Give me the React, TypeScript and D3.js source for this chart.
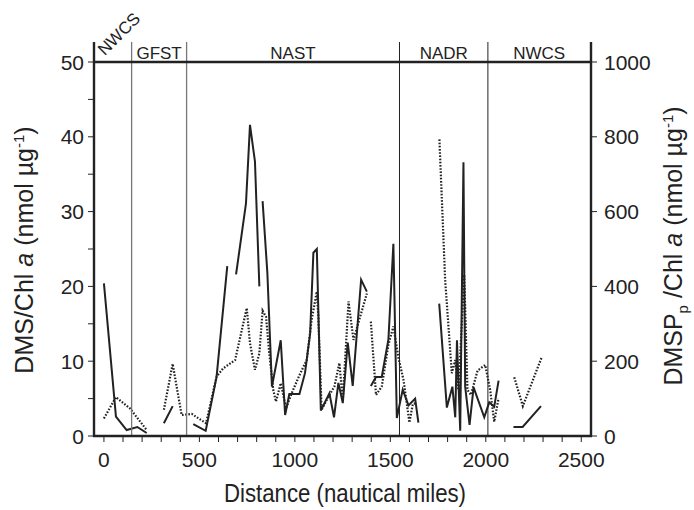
import React from 'react';
import * as d3 from 'd3';

// DMS/Chl a (solid line, left axis); null = gap in the transect
const dmsDist = [0, 63, 119, 175, 224, 250, 314, 360, 400, 468, 533, 590, 646, 670, 692, 744, 765, 791, 814, 822,
  831, 856, 880, 926, 949, 971, 1024, 1053, 1080, 1097, 1115, 1136, 1181, 1205, 1228, 1251, 1277, 1303, 1347, 1377, 1388,
  1398, 1425, 1455, 1490, 1516, 1534, 1565, 1595, 1630, 1647, 1700,
  1756, 1796, 1825, 1840, 1849, 1866, 1883, 1892, 1915, 1936, 1992, 2018, 2044, 2067, 2100,
  2145, 2193, 2289];
const dmsVal = [20.4, 2.6, 0.8, 1.2, 0.4, null, 1.7, 4.0, null, 1.6, 0.7, 7.9, 22.7, null, 21.6, 31.1, 41.6, 36.7, 20.0, null,
  31.4, 21.8, 6.6, 12.8, 2.8, 5.6, 5.6, 8.4, 13.7, 24.5, 25.0, 3.4, 5.7, 2.5, 7.1, 4.4, 12.5, 6.7, 20.9, 19.3, null,
  6.7, 7.9, 7.9, 12.9, 25.7, 2.4, 6.2, 4.1, 5.0, 1.8, null,
  17.7, 3.8, 6.6, 2.5, 12.8, 0.7, 36.6, 6.6, 1.5, 6.5, 2.5, 4.5, 3.9, 7.4, null,
  1.2, 1.2, 4.0];

// DMSPp/Chl a (dotted line, right axis)
const dmspDist = [0, 63, 136, 224, 270, 314, 360, 407, 460, 535, 590, 625, 687, 748, 765, 791, 814, 831, 849, 866, 887,
  901, 926, 954, 983, 1027, 1062, 1088, 1115, 1123, 1140, 1181, 1207, 1233, 1251, 1281, 1307, 1377, 1388,
  1398, 1425, 1455, 1490, 1516, 1543, 1569, 1600, 1618, 1639, 1700,
  1757, 1787, 1822, 1840, 1857, 1887, 1904, 1922, 1957, 1997, 2023, 2044, 2067, 2100,
  2149, 2194, 2294];
const dmspVal = [47, 104, 74, 16, null, 70, 193, 56, 59, 34, 159, 181, 203, 342, 248, 177, 221, 335, 319, 221, 123,
  92, 141, 74, 114, 166, 203, 311, 386, 319, 70, 110, 132, 195, 96, 360, 257, 381, null,
  306, 110, 132, 244, 293, 208, 150, 36, 86, 88, null,
  793, 418, 168, 203, 123, 431, 123, 110, 175, 190, 123, 38, 101, null,
  157, 80, 212];

const provinceBounds = [145, 433, 1548, 2011];
const provinceNames = ['GFST', 'NAST', 'NADR', 'NWCS'];
const provinceMids = [289, 990, 1780, 2280];
const xTicks = [0, 500, 1000, 1500, 2000, 2500];
const leftTicks = [0, 10, 20, 30, 40, 50];
const rightTicks = [0, 200, 400, 600, 800, 1000];

const font = '"Liberation Sans", Arial, Helvetica, sans-serif';

export default function App() {
  const x = d3.scaleLinear().domain([-52, 2551]).range([94, 591]);
  const yL = d3.scaleLinear().domain([0, 50]).range([436, 62]);
  const yR = d3.scaleLinear().domain([0, 1000]).range([436, 62]);
  const top = 42;

  const lineL = d3.line<[number, number | null]>()
    .defined(d => d[1] !== null)
    .x(d => x(d[0]))
    .y(d => yL(d[1] as number));
  const lineR = d3.line<[number, number | null]>()
    .defined(d => d[1] !== null)
    .x(d => x(d[0]))
    .y(d => yR(d[1] as number));

  const dmsPts = dmsDist.map((d, i) => [d, dmsVal[i]] as [number, number | null]);
  const dmspPts = dmspDist.map((d, i) => [d, dmspVal[i]] as [number, number | null]);

  const xMinor = d3.range(0, 2501, 100);
  const leftMinor = d3.range(0, 51, 5);

  return (
    <svg width={694} height={510} style={{ position: 'absolute', left: 0, top: 0, background: '#fff' }}
      fontFamily={font}>
      {/* data */}
      <path d={lineR(dmspPts) || ''} fill="none" stroke="#222" strokeWidth={2.2} strokeDasharray="1.6 1.6" />
      <path d={lineL(dmsPts) || ''} fill="none" stroke="#222" strokeWidth={2} />

      {/* province boundaries */}
      {provinceBounds.map((b, i) => (
        <line key={b} x1={x(b)} x2={x(b)} y1={top} y2={436}
          stroke={i < 2 ? '#777' : '#222'} strokeWidth={i < 2 ? 1.3 : 1} />
      ))}
      {provinceNames.map((n, i) => (
        <text key={i} x={x(provinceMids[i])} y={59} fontSize={17} textAnchor="middle" fill="#222">{n}</text>
      ))}
      <text x={0} y={0} fontSize={17} fill="#222" textAnchor="middle"
        transform="translate(123,38) rotate(-45)">NWCS</text>

      {/* frame */}
      <line x1={94} x2={94} y1={top} y2={437} stroke="#222" strokeWidth={2.4} />
      <line x1={591} x2={591} y1={top} y2={437} stroke="#222" strokeWidth={2.4} />
      <line x1={93} x2={592} y1={62} y2={62} stroke="#222" strokeWidth={2.6} />
      <line x1={93} x2={592} y1={436} y2={436} stroke="#222" strokeWidth={2.6} />

      {/* x axis */}
      {xMinor.map(t => (
        <line key={t} x1={x(t)} x2={x(t)} y1={437} y2={442} stroke="#222" strokeWidth={1} />
      ))}
      {xTicks.map(t => (
        <text key={t} x={x(t)} y={467} fontSize={21} textAnchor="middle" fill="#222">{t}</text>
      ))}
      <text x={345} y={502} fontSize={25} textAnchor="middle" fill="#222"
        textLength={242} lengthAdjust="spacingAndGlyphs">Distance (nautical miles)</text>

      {/* left axis */}
      {leftMinor.map(t => (
        <line key={t} x1={88} x2={94} y1={yL(t)} y2={yL(t)} stroke="#222" strokeWidth={1} />
      ))}
      {leftTicks.map(t => (
        <text key={t} x={84} y={yL(t) + 7.5} fontSize={21} textAnchor="end" fill="#222">{t}</text>
      ))}
      <text transform="translate(33,250) rotate(-90)" fontSize={25} textAnchor="middle" fill="#222">
        DMS/Chl <tspan fontStyle="italic">a</tspan> (nmol µg<tspan dy={-9} fontSize={15}>-1</tspan><tspan dy={9}>)</tspan>
      </text>

      {/* right axis */}
      {rightTicks.map(t => (
        <line key={t} x1={591} x2={597} y1={yR(t)} y2={yR(t)} stroke="#222" strokeWidth={1} />
      ))}
      {rightTicks.map(t => (
        <text key={t} x={604} y={yR(t) + 7.5} fontSize={21} textAnchor="start" fill="#222">{t}</text>
      ))}
      <text transform="translate(682,246) rotate(-90)" fontSize={25} textAnchor="middle" fill="#222">
        DMSP<tspan dy={6} fontSize={15}>p</tspan><tspan dy={-6}> /Chl </tspan><tspan fontStyle="italic">a</tspan> (nmol µg<tspan dy={-9} fontSize={15}>-1</tspan><tspan dy={9}>)</tspan>
      </text>
    </svg>
  );
}
